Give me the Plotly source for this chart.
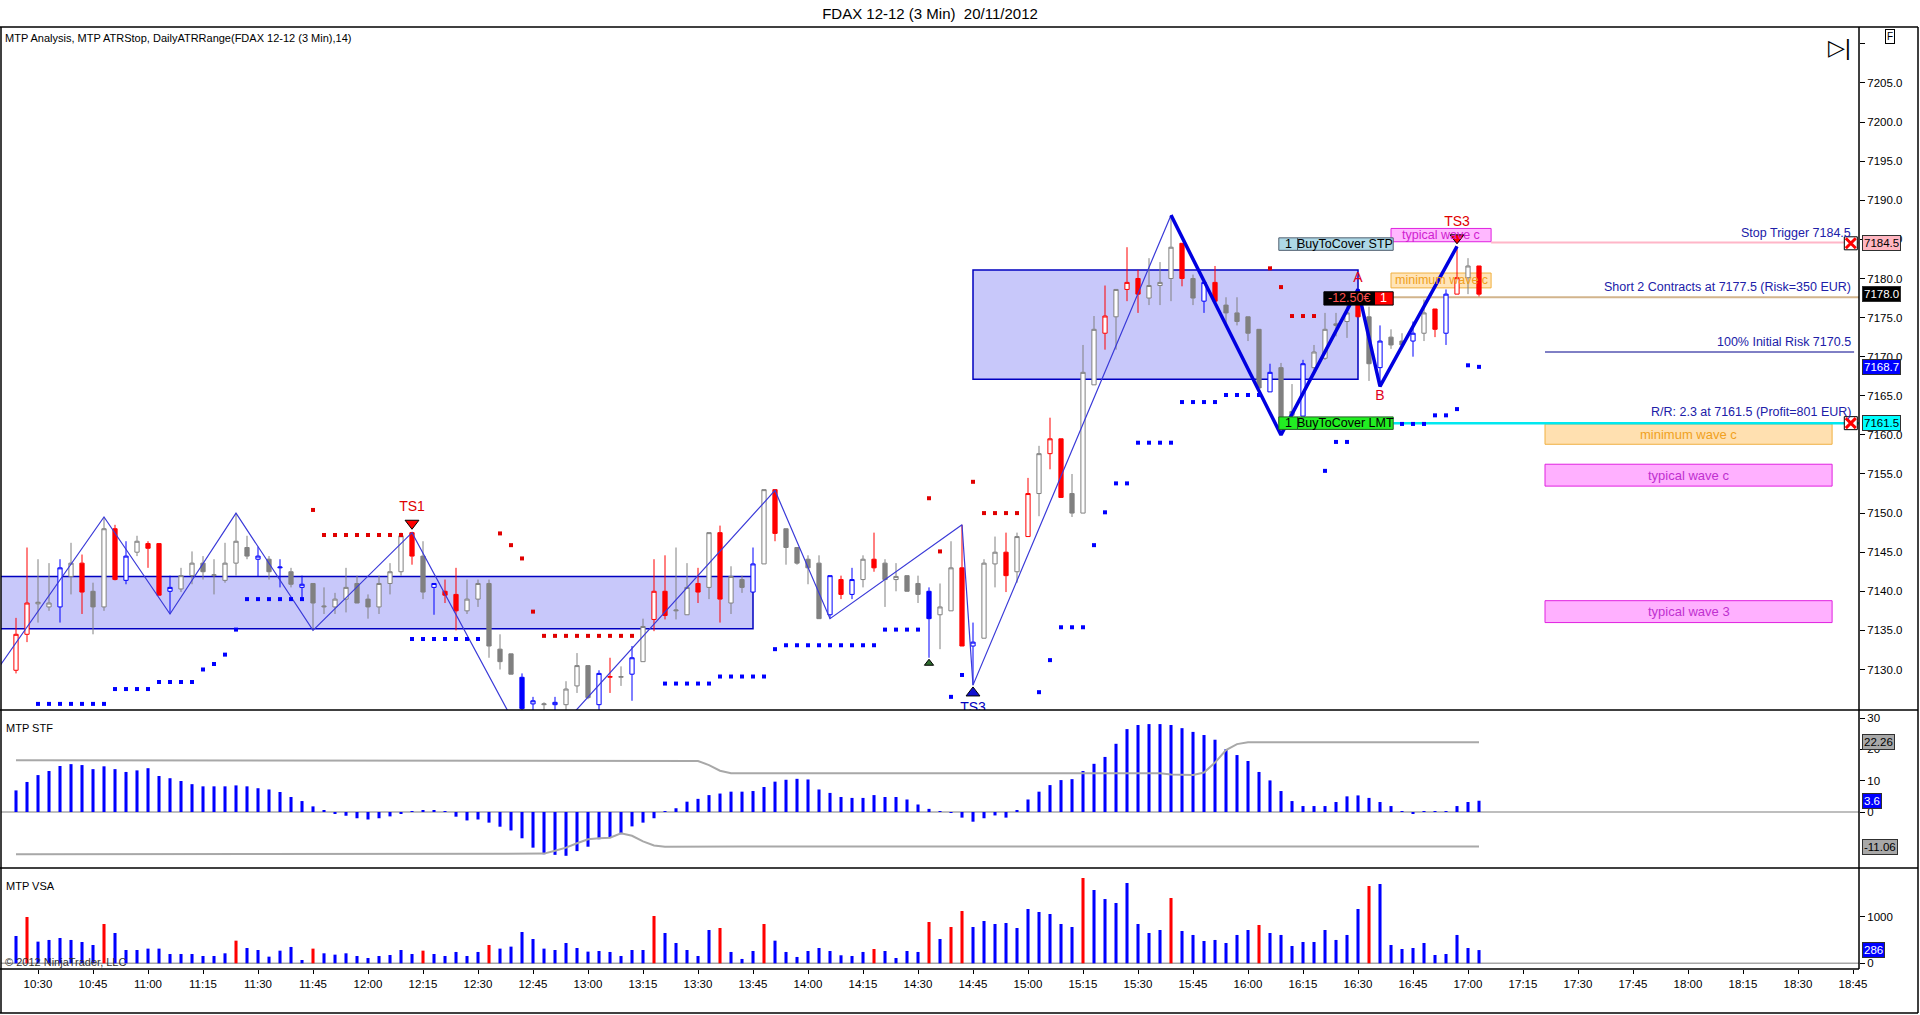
import pandas as pd
import plotly.graph_objects as go

# 3 min bars, FDAX 12-12, 20/11/2012 from 10:24 to 17:03
first_bar = pd.Timestamp("2012-11-20 10:24")
bar_minutes = 3

candle_open = [
    7129.9, 7134.5, 7138.4, 7138.0, 7138.0, 7141.9, 7143.6, 7140.0, 7138.0, 7148.0,
    7141.4, 7145.0, 7146.1, 7146.1, 7140.0, 7140.3, 7142.0, 7143.6, 7142.0, 7141.4,
    7143.6, 7145.6, 7144.1, 7144.1, 7143.0, 7142.5, 7140.5, 7141.0, 7138.0, 7138.0,
    7139.0, 7141.0, 7139.0, 7138.0, 7141.0, 7142.5, 7147.5, 7144.5, 7140.5, 7140.0,
    7139.6, 7137.5, 7139.0, 7141.0, 7132.6, 7132.0, 7129.0, 7125.6, 7125.5, 7125.5,
    7125.5, 7127.9, 7130.5, 7125.5, 7129.0, 7129.0, 7129.4, 7131.0, 7136.4, 7140.0,
    7137.5, 7137.0, 7141.0, 7140.5, 7147.5, 7138.5, 7141.5, 7139.9, 7143.5, 7153.0,
    7148.0, 7145.6, 7144.1, 7143.6, 7137.0, 7141.5, 7139.6, 7141.5, 7144.1, 7143.6,
    7141.5, 7142.0, 7141.0, 7140.0, 7137.0, 7137.5, 7143.0, 7133.0, 7134.0, 7143.5,
    7145.0, 7142.5, 7147.0, 7152.5, 7157.6, 7159.5, 7152.5, 7150.0, 7166.4, 7173.0,
    7175.1, 7178.6, 7180.0, 7177.5, 7179.1, 7180.0, 7184.5, 7180.0, 7177.1, 7179.5,
    7176.6, 7175.6, 7175.1, 7173.5, 7165.5, 7168.6, 7162.5, 7162.4, 7168.6, 7169.8,
    7174.0, 7174.5, 7177.6, 7175.1, 7168.6, 7172.5, 7172.0, 7172.0, 7173.0, 7176.1,
    7173.0, 7178.0, 7180.1, 7181.6]
candle_high = [
    7136.6, 7145.6, 7144.1, 7143.6, 7144.1, 7146.2, 7144.7, 7141.1, 7149.4, 7148.5,
    7146.4, 7147.1, 7146.4, 7146.1, 7142.0, 7143.0, 7145.1, 7144.5, 7144.1, 7146.2,
    7150.0, 7147.1, 7145.7, 7144.5, 7144.1, 7143.0, 7142.0, 7141.0, 7140.5, 7139.8,
    7143.0, 7142.0, 7139.6, 7142.0, 7143.6, 7147.5, 7147.6, 7146.4, 7141.0, 7141.5,
    7143.0, 7141.5, 7141.5, 7141.5, 7134.5, 7132.0, 7129.5, 7126.5, 7125.8, 7126.5,
    7128.5, 7132.1, 7130.5, 7129.9, 7131.5, 7130.4, 7133.0, 7136.5, 7144.1, 7144.6,
    7145.6, 7143.6, 7143.0, 7147.5, 7148.4, 7143.2, 7142.0, 7145.6, 7153.0, 7153.0,
    7148.0, 7145.6, 7144.6, 7144.6, 7142.0, 7142.0, 7143.0, 7144.6, 7147.5, 7144.1,
    7143.6, 7142.0, 7142.0, 7140.5, 7141.0, 7146.4, 7148.5, 7136.0, 7144.1, 7147.0,
    7147.5, 7147.5, 7154.5, 7158.6, 7162.2, 7159.5, 7155.0, 7171.5, 7175.2, 7179.1,
    7178.6, 7184.0, 7181.1, 7182.6, 7182.1, 7188.1, 7184.5, 7180.5, 7179.5, 7181.6,
    7177.6, 7177.6, 7175.1, 7173.5, 7169.1, 7169.2, 7166.5, 7169.6, 7171.5, 7175.6,
    7175.6, 7178.1, 7178.6, 7176.4, 7174.0, 7173.5, 7173.0, 7174.5, 7177.3, 7176.1,
    7178.6, 7184.1, 7182.6, 7181.6]
candle_low = [
    7129.5, 7133.5, 7136.0, 7137.5, 7136.0, 7139.6, 7137.1, 7134.5, 7137.5, 7141.4,
    7140.9, 7144.5, 7143.0, 7139.5, 7137.1, 7139.9, 7140.9, 7141.5, 7139.6, 7141.1,
    7142.0, 7144.1, 7141.9, 7141.5, 7140.5, 7140.5, 7139.0, 7135.0, 7137.1, 7137.1,
    7137.3, 7138.5, 7136.5, 7137.1, 7139.6, 7142.0, 7143.4, 7139.0, 7137.0, 7138.5,
    7135.0, 7137.1, 7138.0, 7131.5, 7130.0, 7129.4, 7123.0, 7122.0, 7122.0, 7123.0,
    7124.0, 7127.0, 7126.2, 7124.5, 7127.0, 7127.9, 7126.0, 7131.0, 7134.9, 7136.4,
    7136.4, 7137.0, 7138.5, 7139.0, 7136.0, 7137.1, 7139.8, 7139.9, 7143.5, 7146.4,
    7143.4, 7143.4, 7140.9, 7136.5, 7136.5, 7139.0, 7139.0, 7140.5, 7142.5, 7138.0,
    7140.0, 7140.0, 7138.5, 7131.5, 7132.6, 7137.5, 7133.0, 7128.0, 7134.0, 7140.5,
    7139.9, 7141.1, 7147.0, 7149.6, 7155.6, 7152.0, 7149.5, 7150.0, 7166.4, 7170.9,
    7170.9, 7177.1, 7175.6, 7176.6, 7176.6, 7177.1, 7179.0, 7176.6, 7175.6, 7177.1,
    7174.3, 7174.0, 7172.0, 7166.0, 7165.5, 7160.0, 7161.0, 7162.4, 7167.9, 7169.6,
    7172.6, 7172.4, 7175.1, 7166.9, 7166.2, 7171.0, 7171.5, 7170.0, 7172.0, 7172.5,
    7171.5, 7178.0, 7178.0, 7177.7]
candle_close = [
    7134.5, 7138.5, 7138.6, 7138.5, 7143.0, 7143.6, 7139.9, 7138.0, 7148.0, 7141.5,
    7144.5, 7146.4, 7145.5, 7139.5, 7140.5, 7142.0, 7143.6, 7142.5, 7142.1, 7143.6,
    7146.4, 7144.5, 7144.5, 7142.5, 7143.1, 7140.9, 7140.9, 7138.5, 7138.1, 7139.0,
    7140.5, 7138.5, 7138.0, 7141.0, 7142.5, 7147.1, 7144.5, 7139.9, 7141.0, 7139.5,
    7137.5, 7139.0, 7141.0, 7133.0, 7131.0, 7129.4, 7125.0, 7126.0, 7125.6, 7125.8,
    7127.5, 7130.5, 7126.4, 7129.5, 7129.1, 7129.1, 7131.5, 7135.5, 7140.0, 7136.9,
    7137.6, 7140.5, 7139.9, 7147.5, 7139.0, 7141.9, 7140.5, 7143.5, 7153.0, 7147.4,
    7145.6, 7143.6, 7143.0, 7136.5, 7142.0, 7139.6, 7141.5, 7144.1, 7143.0, 7141.5,
    7141.9, 7140.0, 7139.6, 7136.5, 7138.0, 7143.0, 7133.0, 7133.5, 7143.6, 7145.0,
    7142.0, 7147.0, 7152.5, 7157.6, 7159.5, 7152.0, 7150.0, 7168.0, 7173.5, 7175.2,
    7178.6, 7179.5, 7178.0, 7179.1, 7179.5, 7184.0, 7180.0, 7177.5, 7179.5, 7177.1,
    7175.6, 7174.5, 7173.0, 7166.0, 7168.0, 7161.5, 7163.0, 7169.1, 7170.6, 7173.5,
    7174.2, 7175.6, 7175.1, 7169.1, 7172.0, 7171.5, 7171.5, 7173.0, 7175.6, 7173.5,
    7178.0, 7180.1, 7181.6, 7178.0]
# g = grey, r = red, b = blue bar colouring
candle_color = ("rrggbgrggr" "bgrrbggggg" "ggbgbgbggg" "ggggggrgbr" "rgggggbbgb"
                "gggbrgbgrr" "ggrgrggbgr" "ggggbrbgrg" "gggbggrbgg" "rgrgrrgggr"
                "grrgggrgbr" "ggggbggbgg" "ggrgbggbgr" "brgr")

# MTP ATRStop dots
atr_red_bars = [27, 28, 29, 30, 31, 32, 33, 34, 35, 44, 45, 46, 47, 48, 49, 50, 51, 52,
                53, 54, 55, 56, 83, 84, 87, 88, 89, 90, 91, 114, 115, 116, 117, 118]
atr_red = [7150.4, 7147.2, 7147.2, 7147.2, 7147.2, 7147.2, 7147.2, 7147.2, 7147.2,
           7147.4, 7145.9, 7144.2, 7137.4, 7134.3, 7134.3, 7134.3, 7134.3, 7134.3,
           7134.3, 7134.3, 7134.3, 7134.3, 7151.9, 7145.1, 7154.0, 7150.0, 7150.0,
           7150.0, 7150.0, 7181.3, 7178.9, 7175.2, 7175.2, 7175.2]
atr_blue_bars = [2, 3, 4, 5, 6, 7, 8, 9, 10, 11, 12, 13, 14, 15, 16, 17, 18, 19, 20,
                 21, 22, 23, 24, 25, 26, 36, 37, 38, 39, 40, 41, 42,
                 59, 60, 61, 62, 63, 64, 65, 66, 67, 68, 69, 70, 71, 72, 73, 74, 75, 76,
                 77, 78, 79, 80, 81, 82, 85, 86, 93, 94, 95, 96, 97, 98, 99, 100, 101,
                 102, 103, 104, 105, 106, 107, 108, 109, 110, 111, 112, 113, 119, 120,
                 121, 126, 127, 128, 129, 130, 131, 132, 133]
atr_blue = [7125.6, 7125.6, 7125.6, 7125.6, 7125.6, 7125.6, 7125.6, 7127.5, 7127.5,
            7127.5, 7127.5, 7128.4, 7128.4, 7128.4, 7128.4, 7130.0, 7130.7, 7131.9,
            7135.1, 7139.0, 7139.0, 7139.0, 7139.0, 7139.0, 7139.0, 7133.9, 7133.9,
            7133.9, 7133.9, 7133.9, 7133.9, 7133.9,
            7128.2, 7128.2, 7128.2, 7128.2, 7128.2, 7129.1, 7129.1, 7129.1, 7129.1,
            7129.1, 7132.6, 7133.1, 7133.1, 7133.1, 7133.1, 7133.1, 7133.1, 7133.1,
            7133.1, 7133.1, 7135.1, 7135.1, 7135.1, 7135.1, 7126.5, 7129.3, 7127.1,
            7131.2, 7135.4, 7135.4, 7135.4, 7145.9, 7150.1, 7153.8, 7153.8, 7159.0,
            7159.0, 7159.0, 7159.0, 7164.2, 7164.2, 7164.2, 7164.2, 7165.1, 7165.1,
            7165.1, 7165.1, 7155.4, 7159.1, 7159.1, 7161.4, 7161.4, 7161.4, 7162.5,
            7162.5, 7163.3, 7168.9, 7168.7]

# MTP Analysis swings
zigzag_bars = [-2, 8, 14, 20, 27, 36, 47, 69, 74, 86, 87, 105]
zigzag = [7129.4, 7149.5, 7137.1, 7150.0, 7135.0, 7147.5, 7118.7, 7152.9, 7136.5,
          7148.5, 7128.0, 7188.1]
abc_bars = [105, 115, 122, 124, 131]
abc = [7188.1, 7160.0, 7178.6, 7166.2, 7184.1]

# MTP STF
stf = [
    6.9, 9.6, 11.8, 13.1, 14.7, 15.3, 15.0, 13.7, 14.6, 13.7,
    12.8, 13.3, 14.0, 11.5, 10.8, 9.9, 8.9, 8.2, 8.2, 8.2,
    8.5, 8.2, 7.6, 7.2, 6.4, 4.8, 3.5, 1.8, 0.5, -0.5,
    -1.2, -2.0, -2.4, -2.0, -1.4, -0.5, 0.3, 0.5, 0.5, 0.2,
    -1.5, -2.7, -2.4, -3.4, -4.7, -5.9, -8.4, -11.4, -13.5, -13.7,
    -14.0, -12.5, -11.1, -8.7, -8.2, -7.1, -4.6, -3.4, -2.0, 0.1,
    1.2, 3.3, 4.2, 5.4, 5.9, 6.5, 6.5, 6.7, 8.0, 9.7,
    10.3, 10.6, 10.4, 7.2, 6.1, 4.8, 4.5, 4.5, 5.4, 4.8,
    4.8, 4.0, 2.4, 1.0, 0.1, -0.2, -1.8, -3.1, -2.0, -1.1,
    -1.8, 0.6, 4.0, 6.5, 8.6, 10.2, 10.5, 13.1, 15.4, 17.6,
    21.8, 26.5, 27.8, 28.1, 28.1, 27.8, 26.8, 25.6, 24.6, 23.1,
    20.1, 18.2, 16.3, 12.8, 10.1, 6.7, 3.5, 1.9, 1.9, 1.9,
    3.2, 5.0, 5.3, 4.5, 3.2, 1.9, 0.3, -0.5, 0.3, 0.1,
    0.3, 1.9, 3.2, 3.6]
stf_upper = [
    16.5, 16.5, 16.5, 16.5, 16.5, 16.5, 16.5, 16.5, 16.5, 16.5,
    16.5, 16.5, 16.5, 16.5, 16.5, 16.5, 16.5, 16.5, 16.5, 16.5,
    16.5, 16.5, 16.5, 16.5, 16.5, 16.5, 16.5, 16.5, 16.5, 16.5,
    16.5, 16.5, 16.5, 16.5, 16.5, 16.5, 16.5, 16.5, 16.5, 16.5,
    16.5, 16.5, 16.5, 16.5, 16.5, 16.5, 16.5, 16.5, 16.5, 16.5,
    16.5, 16.5, 16.5, 16.5, 16.5, 16.5, 16.5, 16.5, 16.5, 16.5,
    16.5, 16.5, 16.3, 15.0, 13.2, 12.4, 12.4, 12.4, 12.4, 12.4,
    12.4, 12.4, 12.4, 12.4, 12.4, 12.4, 12.4, 12.4, 12.4, 12.4,
    12.4, 12.4, 12.4, 12.4, 12.4, 12.4, 12.4, 12.4, 12.4, 12.4,
    12.4, 12.4, 12.4, 12.4, 12.4, 12.4, 12.4, 12.4, 12.4, 12.4,
    12.4, 12.4, 12.4, 12.4, 12.4, 12.0, 11.8, 11.8, 12.6, 15.8,
    19.8, 21.7, 22.26, 22.26, 22.26, 22.26, 22.26, 22.26, 22.26, 22.26,
    22.26, 22.26, 22.26, 22.26, 22.26, 22.26, 22.26, 22.26, 22.26, 22.26,
    22.26, 22.26, 22.26, 22.26]
stf_lower = [
    -13.5, -13.5, -13.5, -13.5, -13.5, -13.5, -13.5, -13.5, -13.5, -13.5,
    -13.5, -13.5, -13.5, -13.5, -13.5, -13.5, -13.5, -13.5, -13.5, -13.5,
    -13.5, -13.5, -13.5, -13.5, -13.5, -13.5, -13.5, -13.5, -13.5, -13.5,
    -13.5, -13.5, -13.5, -13.5, -13.5, -13.5, -13.5, -13.5, -13.5, -13.5,
    -13.5, -13.5, -13.5, -13.5, -13.5, -13.5, -13.5, -13.5, -13.3, -12.4,
    -11.4, -10.0, -8.7, -8.4, -8.2, -6.8, -7.6, -9.4, -10.7, -11.1,
    -11.06, -11.06, -11.06, -11.06, -11.06, -11.06, -11.06, -11.06, -11.06, -11.06,
    -11.06, -11.06, -11.06, -11.06, -11.06, -11.06, -11.06, -11.06, -11.06, -11.06,
    -11.06, -11.06, -11.06, -11.06, -11.06, -11.06, -11.06, -11.06, -11.06, -11.06,
    -11.06, -11.06, -11.06, -11.06, -11.06, -11.06, -11.06, -11.06, -11.06, -11.06,
    -11.06, -11.06, -11.06, -11.06, -11.06, -11.06, -11.06, -11.06, -11.06, -11.06,
    -11.06, -11.06, -11.06, -11.06, -11.06, -11.06, -11.06, -11.06, -11.06, -11.06,
    -11.06, -11.06, -11.06, -11.06, -11.06, -11.06, -11.06, -11.06, -11.06, -11.06,
    -11.06, -11.06, -11.06, -11.06]

# MTP VSA
vsa_volume = [
    590, 1000, 468, 504, 547, 504, 460, 396, 849, 655,
    288, 288, 317, 317, 201, 201, 201, 158, 158, 216,
    489, 331, 288, 144, 273, 353, 72, 317, 216, 187,
    216, 158, 115, 158, 180, 288, 201, 273, 201, 158,
    245, 158, 245, 396, 317, 360, 676, 525, 317, 288,
    439, 331, 252, 266, 245, 158, 288, 288, 1022, 655,
    439, 288, 158, 719, 763, 245, 94, 266, 849, 489,
    245, 137, 266, 331, 266, 173, 158, 245, 309, 266,
    115, 266, 245, 892, 525, 784, 1129, 784, 914, 849,
    870, 763, 1173, 1108, 1065, 849, 784, 1842, 1583, 1388,
    1302, 1734, 849, 655, 719, 1410, 698, 612, 482, 504,
    439, 612, 719, 827, 655, 612, 374, 460, 460, 719,
    504, 612, 1173, 1669, 1712, 396, 309, 331, 439, 180,
    201, 612, 331, 286]
vsa_red_bars = [1, 8, 20, 27, 37, 43, 58, 64, 68, 78, 83, 85, 86, 97, 105, 113, 123]

# price levels of the open short trade
stop_trigger = 7184.5
entry = 7177.5
initial_risk = 7170.5
target = 7161.5
last_close = 7178.0
last_stop = 7168.7


def bt(i):
    return first_bar + pd.Timedelta(minutes=bar_minutes * i)


t = [bt(i) for i in range(len(candle_open))]

fig = go.Figure()

palette = {"g": "#808080", "r": "#ff0000", "b": "#0000ff"}
for key, col in palette.items():
    idx = [i for i, c in enumerate(candle_color) if c == key]
    fig.add_trace(go.Candlestick(
        x=[t[i] for i in idx],
        open=[candle_open[i] for i in idx], high=[candle_high[i] for i in idx],
        low=[candle_low[i] for i in idx], close=[candle_close[i] for i in idx],
        increasing=dict(line=dict(color=col, width=1), fillcolor="white"),
        decreasing=dict(line=dict(color=col, width=1), fillcolor=col),
        whiskerwidth=0, hoverinfo="skip", showlegend=False))

fig.add_trace(go.Scatter(x=[bt(i) for i in zigzag_bars], y=zigzag, mode="lines",
                         line=dict(color="#3a3ad8", width=1.2), hoverinfo="skip"))
fig.add_trace(go.Scatter(x=[bt(i) for i in abc_bars], y=abc, mode="lines",
                         line=dict(color="#0000e0", width=3.5), hoverinfo="skip"))
fig.add_trace(go.Scatter(x=[bt(i) for i in atr_red_bars], y=atr_red, mode="markers",
                         marker=dict(symbol="square", size=4, color="#e00000"),
                         hoverinfo="skip"))
fig.add_trace(go.Scatter(x=[bt(i) for i in atr_blue_bars], y=atr_blue, mode="markers",
                         marker=dict(symbol="square", size=4, color="#0000ff"),
                         hoverinfo="skip"))

# signal markers
fig.add_trace(go.Scatter(x=[bt(36)], y=[7148.7], mode="markers+text", text=["TS1"],
                         textposition="top center",
                         textfont=dict(color="#e00000", size=14),
                         marker=dict(symbol="triangle-down", size=12, color="#ff0000",
                                     line=dict(color="black", width=1)),
                         hoverinfo="skip"))
fig.add_trace(go.Scatter(x=[bt(131)], y=[7185.2], mode="markers+text", text=["TS3"],
                         textposition="top center",
                         textfont=dict(color="#e00000", size=14),
                         marker=dict(symbol="triangle-down", size=12, color="#ff0000",
                                     line=dict(color="black", width=1)),
                         hoverinfo="skip"))
fig.add_trace(go.Scatter(x=[bt(87)], y=[7127.0], mode="markers+text", text=["TS3"],
                         textposition="bottom center",
                         textfont=dict(color="#0000c0", size=14),
                         marker=dict(symbol="triangle-up", size=12, color="#1010d0",
                                     line=dict(color="black", width=1)),
                         hoverinfo="skip"))
fig.add_trace(go.Scatter(x=[bt(83)], y=[7130.8], mode="markers",
                         marker=dict(symbol="triangle-up", size=8, color="#2e6b2e",
                                     line=dict(color="black", width=1)),
                         hoverinfo="skip"))
fig.add_trace(go.Scatter(x=[bt(122), bt(124)], y=[7180.0, 7164.9], mode="text",
                         text=["A", "B"], textfont=dict(color="#e00020", size=14),
                         hoverinfo="skip"))
fig.add_trace(go.Scatter(x=[bt(166.8), bt(166.8)], y=[stop_trigger, target],
                         mode="markers",
                         marker=dict(symbol="square", size=13, color="white",
                                     line=dict(color="black", width=1)),
                         hoverinfo="skip"))
fig.add_trace(go.Scatter(x=[bt(166.8), bt(166.8)], y=[stop_trigger, target],
                         mode="markers",
                         marker=dict(symbol="x-thin", size=10,
                                     line=dict(color="#ff0000", width=3)),
                         hoverinfo="skip"))

# MTP STF panel
fig.add_trace(go.Bar(x=t, y=stf, yaxis="y2", width=50000, marker_color="#0000ff",
                     marker_line_width=0, hoverinfo="skip"))
fig.add_trace(go.Scatter(x=t, y=stf_upper, yaxis="y2", mode="lines",
                         line=dict(color="#a8a8a8", width=2), hoverinfo="skip"))
fig.add_trace(go.Scatter(x=t, y=stf_lower, yaxis="y2", mode="lines",
                         line=dict(color="#a8a8a8", width=2), hoverinfo="skip"))

# MTP VSA panel
vsa_colors = ["#ff0000" if i in vsa_red_bars else "#0000ff" for i in range(len(vsa_volume))]
fig.add_trace(go.Bar(x=t, y=vsa_volume, yaxis="y3", width=50000, marker_color=vsa_colors,
                     marker_line_width=0, hoverinfo="skip"))


def px_x(p):
    return (p - 1) / 1858


def px_y(p):
    return (969 - p) / 942


shapes = []
x_left, x_right = bt(-1.364), bt(167.545)


def rect(i0, i1, y0, y1, fill, line, layer="below", width=1):
    shapes.append(dict(type="rect", xref="x", yref="y", x0=bt(i0), x1=bt(i1), y0=y0, y1=y1,
                       fillcolor=fill, line=dict(color=line, width=width), layer=layer))


def hline(i0, i1, y, color, width, yref="y", layer="below"):
    shapes.append(dict(type="line", xref="x", yref=yref, x0=i0, x1=i1, y0=y, y1=y,
                       line=dict(color=color, width=width), layer=layer))


# consolidation boxes
rect(-3, 67, 7135.2, 7141.9, "#c8c8fa", "#0000c0", width=1.5)
rect(87, 122, 7167.1, 7181.1, "#c8c8fa", "#0000c0", width=1.5)

# target boxes
rect(139, 165.1, 7158.8, 7161.4, "#ffe0b0", "#f0b040")
rect(139, 165.1, 7153.45, 7156.25, "#ffb0ff", "#e020e0")
rect(139, 165.1, 7136.0, 7138.8, "#ffb0ff", "#e020e0")
rect(125.0, 134.1, 7184.7, 7186.4, "#ffb8ff", "#e020e0")
rect(125.0, 134.1, 7178.8, 7180.7, "#ffe4b8", "#f0b040")

# trade levels
hline(bt(134.1), x_right, 7184.6, "#ffb6c8", 2)
hline(bt(125.2), x_right, 7177.6, "#d2b48c", 2)
hline(bt(139), bt(167.1), 7170.6, "#00008b", 1)
hline(bt(125.2), x_right, target, "#00e8f0", 2.5)

# order labels
rect(114.8, 116.5, 7183.6, 7185.2, "#add8e6", "#506070", layer="above")
rect(116.5, 125.2, 7183.6, 7185.2, "#add8e6", "#506070", layer="above")
rect(114.8, 116.5, 7160.7, 7162.3, "#22ee22", "#206020", layer="above")
rect(116.5, 125.2, 7160.7, 7162.3, "#22ee22", "#206020", layer="above")
rect(118.9, 123.5, 7176.6, 7178.3, "#000000", "#000000", layer="above")
rect(123.5, 125.2, 7176.6, 7178.3, "#ff0000", "#000000", layer="above")

# zero lines
hline(x_left, x_right, 0, "#a8a8a8", 1.5, yref="y2")
hline(x_left, x_right, 0, "#a8a8a8", 1.5, yref="y3")

# frame and panel separators
for py in (27, 710, 868, 1013):
    shapes.append(dict(type="line", xref="paper", yref="paper", x0=px_x(0), x1=px_x(1918),
                       y0=px_y(py), y1=px_y(py), line=dict(color="black", width=1.5),
                       layer="above"))
shapes.append(dict(type="line", xref="paper", yref="paper", x0=px_x(0), x1=px_x(1859),
                   y0=0, y1=0, line=dict(color="black", width=1.5), layer="above"))
for pxv, bottom in ((1, 1013), (1918, 1013), (1859, 969)):
    shapes.append(dict(type="line", xref="paper", yref="paper", x0=px_x(pxv), x1=px_x(pxv),
                       y0=px_y(27), y1=px_y(bottom), line=dict(color="black", width=1.5),
                       layer="above"))

ann = []


def label(i, y, text, color, size=12.5, yref="y", **kw):
    ann.append(dict(x=bt(i), y=y, xref="x", yref=yref, text=text, showarrow=False,
                    font=dict(color=color, size=size), **kw))


label(115.65, 7184.4, "1", "black")
label(120.85, 7184.4, "BuyToCover STP", "black")
label(115.65, 7161.5, "1", "black")
label(120.85, 7161.5, "BuyToCover LMT", "black")
label(121.2, 7177.45, "-12.50€", "#ff5050")
label(124.35, 7177.45, "1", "white")
label(129.55, 7185.55, "typical wave c", "#d020d0")
label(129.55, 7179.75, "minimum wave c", "#f0a020")
label(152.05, 7160.1, "minimum wave c", "#f0a020", size=13)
label(152.05, 7154.85, "typical wave c", "#c030d0", size=13)
label(152.05, 7137.4, "typical wave 3", "#c030d0", size=13)

for y, text in ((stop_trigger, "Stop Trigger 7184.5"),
                (entry, "Short 2 Contracts at 7177.5 (Risk=350 EUR)"),
                (initial_risk, "100% Initial Risk 7170.5"),
                (target, "R/R: 2.3 at 7161.5 (Profit=801 EUR)")):
    label(167.0, y + 0.1, text, "#2020a8", xanchor="right", yanchor="bottom", yshift=1)


def tag(y, text, bg, fg, yref="y"):
    ann.append(dict(x=1, xref="paper", xanchor="left", xshift=3, y=y, yref=yref,
                    text=text, showarrow=False, bgcolor=bg, bordercolor="#303030",
                    borderwidth=1, borderpad=1, font=dict(color=fg, size=11.5)))


tag(stop_trigger, "7184.5", "#ffb6c1", "black")
tag(last_close, "7178.0", "black", "white")
tag(last_stop, "7168.7", "#0000ff", "white")
tag(target, "7161.5", "#00ffff", "black")
tag(stf_upper[-1], "22.26", "#a8a8a8", "black", yref="y2")
tag(stf[-1], "3.6", "#0000ff", "white", yref="y2")
tag(stf_lower[-1], "-11.06", "#a8a8a8", "black", yref="y2")
tag(vsa_volume[-1], "286", "#0000ff", "white", yref="y3")


def note(px, py, text, size=11, color="black", **kw):
    ann.append(dict(x=px_x(px), y=px_y(py), xref="paper", yref="paper", text=text,
                    showarrow=False, xanchor="left", yanchor="middle",
                    font=dict(size=size, color=color), **kw))


note(3, 38, "MTP Analysis, MTP ATRStop, DailyATRRange(FDAX 12-12 (3 Min),14)")
note(4, 728, "MTP STF")
note(4, 886, "MTP VSA")
note(3, 962, "© 2012 NinjaTrader, LLC", size=11, color="#303030")
note(1826, 47, "▷|", size=22, color="black")
note(1885, 36, "F", size=10, color="black", bordercolor="black", borderwidth=1,
     borderpad=1)

price_ticks = [7130, 7135, 7140, 7145, 7150, 7155, 7160, 7165, 7170, 7175, 7180, 7185,
               7190, 7195, 7200, 7205, 7210]
price_tick_text = ["7130.0", "7135.0", "7140.0", "7145.0", "7150.0", "7155.0", "7160.0",
                   "7165.0", "7170.0", "7175.0", "7180.0", "7185.0", "7190.0", "7195.0",
                   "7200.0", "7205.0", ""]

axis_common = dict(showgrid=False, zeroline=False, side="right", anchor="x",
                   ticks="outside", ticklen=5, tickcolor="black",
                   tickfont=dict(size=11.5, color="black"), fixedrange=True)

fig.update_layout(
    width=1920, height=1015,
    margin=dict(l=1, r=61, t=27, b=46),
    paper_bgcolor="white", plot_bgcolor="white",
    font=dict(family="Liberation Sans, Arial, sans-serif", size=11, color="black"),
    showlegend=False, hovermode=False, boxgap=0.45, boxmode="overlay",
    title=dict(text="FDAX 12-12 (3 Min) \u00a020/11/2012", x=0.5, xref="paper",
               y=1 - 14 / 1015, yanchor="middle", font=dict(size=15, color="black")),
    xaxis=dict(type="date", range=[x_left, x_right], anchor="y3", showgrid=False,
               zeroline=False, tick0="2012-11-20 10:30", dtick=900000,
               tickformat="%H:%M", ticks="outside", ticklen=4, tickcolor="black",
               tickfont=dict(size=11.5, color="black"), rangeslider=dict(visible=False),
               fixedrange=True),
    yaxis=dict(domain=[px_y(710), 1], range=[7124.82, 7212.16], tickvals=price_ticks,
               ticktext=price_tick_text, **axis_common),
    yaxis2=dict(domain=[px_y(868), px_y(710)], range=[-17.9, 32.6],
                tickvals=[0, 10, 20, 30], **axis_common),
    yaxis3=dict(domain=[0, px_y(868)], range=[-123, 2058], tickvals=[0, 1000],
                **axis_common),
    shapes=shapes,
    annotations=ann,
)

fig.write_html("out.html", config={"displayModeBar": False},
               post_script="document.body.style.margin='0';")
